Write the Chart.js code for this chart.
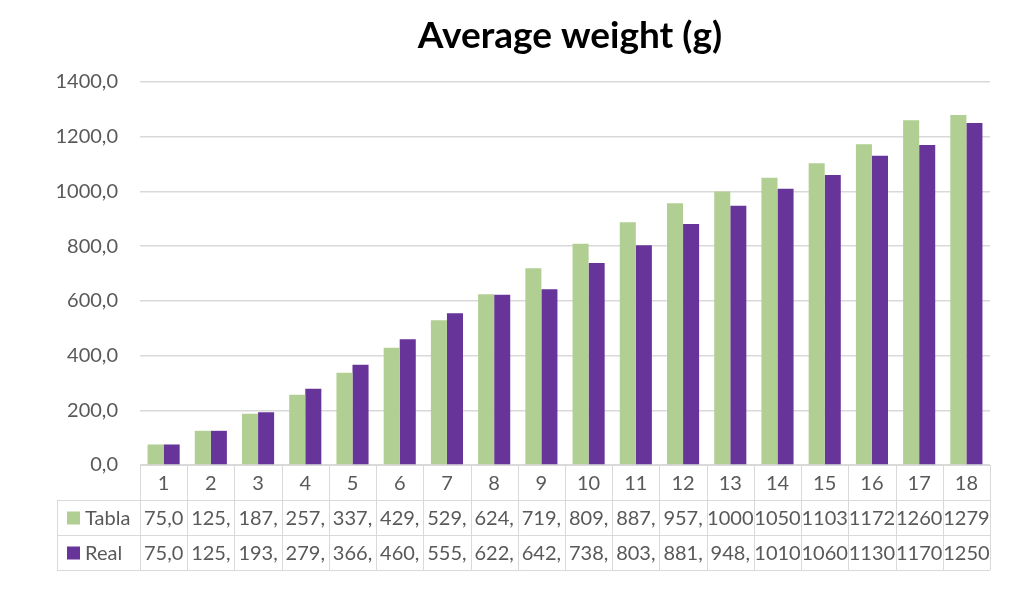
<!DOCTYPE html>
<html>
<head>
<meta charset="utf-8">
<script src="https://cdn.jsdelivr.net/npm/chart.js@4"></script>
<style>
  html, body { margin: 0; padding: 0; background: #fff; }
  #wrap { width: 1024px; height: 591px; position: relative; }
</style>
</head>
<body>
<div id="wrap"><canvas id="weightChart"></canvas></div>
<script>
// Chart data
const weeks = ['1','2','3','4','5','6','7','8','9','10','11','12','13','14','15','16','17','18'];
const tabla = [75, 125, 187, 257, 337, 429, 529, 624, 719, 809, 887, 957, 1000, 1050, 1103, 1172, 1260, 1279];
const real  = [75, 125, 193, 279, 366, 460, 555, 622, 642, 738, 803, 881, 948, 1010, 1060, 1130, 1170, 1250];
const yTicks = [0, 200, 400, 600, 800, 1000, 1200, 1400];
const chartTitle = 'Average weight (g)';

const GREEN = '#B2CF93';
const PURPLE = '#67349A';
const TEXT = '#595959';
const LINE = '#D9D9D9';
const FONT = 'Lato, "Open Sans", sans-serif';

function fmt(v) {
    return v.toFixed(1).replace('.', ',');
}

// Title centred over the plot area, like Excel does
const plotTitle = {
    id: 'plotTitle',
    afterDraw(chart) {
        const ctx = chart.ctx;
        const a = chart.chartArea;
        ctx.save();
        ctx.font = 'bold 37px ' + FONT;
        ctx.fillStyle = '#000';
        ctx.textAlign = 'center';
        ctx.textBaseline = 'middle';
        ctx.fillText(chartTitle, (a.left + a.right) / 2 + 5, 36);
        ctx.restore();
    }
};

// Draws the Excel-style data table under the plot area
const dataTable = {
    id: 'dataTable',
    afterDraw(chart) {
        const ctx = chart.ctx;
        const x = chart.scales.x;
        const top = chart.chartArea.bottom;
        const rowH = 35;
        const step = x.width / weeks.length;
        const left = x.left;
        const right = x.right;
        const legendLeft = 57;
        const rows = [
            { label: 'Tabla', color: GREEN, values: tabla },
            { label: 'Real', color: PURPLE, values: real }
        ];

        ctx.save();
        ctx.strokeStyle = LINE;
        ctx.lineWidth = 1;

        // horizontal lines
        ctx.beginPath();
        ctx.moveTo(left, top + 0.5); ctx.lineTo(right, top + 0.5);
        for (let r = 1; r <= 3; r++) {
            const y = Math.round(top + r * rowH) + 0.5;
            ctx.moveTo(legendLeft, y); ctx.lineTo(right, y);
        }
        // vertical lines
        for (let i = 0; i <= weeks.length; i++) {
            const vx = Math.round(left + i * step) + 0.5;
            ctx.moveTo(vx, top); ctx.lineTo(vx, top + 3 * rowH);
        }
        ctx.moveTo(legendLeft + 0.5, top + rowH); ctx.lineTo(legendLeft + 0.5, top + 3 * rowH);
        ctx.stroke();

        ctx.font = '20px ' + FONT;
        ctx.fillStyle = TEXT;
        ctx.textBaseline = 'middle';

        // header row
        ctx.textAlign = 'center';
        weeks.forEach((w, i) => {
            ctx.fillText(w, left + (i + 0.5) * step, top + rowH / 2 + 1);
        });

        // series rows: values that do not fit lose whole characters, as in Excel
        rows.forEach((row, r) => {
            const cy = top + (r + 1.5) * rowH + 1;
            ctx.fillStyle = row.color;
            ctx.fillRect(legendLeft + 10, cy - 7, 13, 13);
            ctx.fillStyle = TEXT;
            ctx.textAlign = 'left';
            ctx.fillText(row.label, legendLeft + 28, cy);

            ctx.textAlign = 'center';
            row.values.forEach((v, i) => {
                let txt = fmt(v);
                while (txt.length > 1 && ctx.measureText(txt).width > step + 1) {
                    txt = txt.slice(0, -1);
                }
                ctx.fillText(txt, left + (i + 0.5) * step, cy);
            });
        });
        ctx.restore();
    }
};

const ctx = document.getElementById('weightChart').getContext('2d');
const weightChart = new Chart(ctx, {
    type: 'bar',
    data: {
        labels: weeks,
        datasets: [
            { label: 'Tabla', data: tabla, backgroundColor: GREEN },
            { label: 'Real', data: real, backgroundColor: PURPLE }
        ]
    },
    options: {
        responsive: true,
        maintainAspectRatio: false,
        animation: false,
        layout: { padding: { left: 0, right: 34, top: 82, bottom: 126 } },
        datasets: { bar: { barPercentage: 1, categoryPercentage: 0.68 } },
        plugins: {
            legend: { display: false },
            tooltip: { enabled: false },
            title: { display: false }
        },
        scales: {
            x: { display: false },
            y: {
                min: 0,
                max: 1400,
                afterBuildTicks(scale) {
                    scale.ticks = yTicks.map(v => ({ value: v }));
                },
                afterFit(scale) { scale.width = 140; },
                grid: { color: LINE, lineWidth: 1.5, drawTicks: false },
                border: { display: false },
                ticks: {
                    padding: 22,
                    color: TEXT,
                    font: { family: FONT, size: 20 },
                    callback: v => fmt(v)
                }
            }
        }
    },
    plugins: [plotTitle, dataTable]
});
</script>
</body>
</html>
